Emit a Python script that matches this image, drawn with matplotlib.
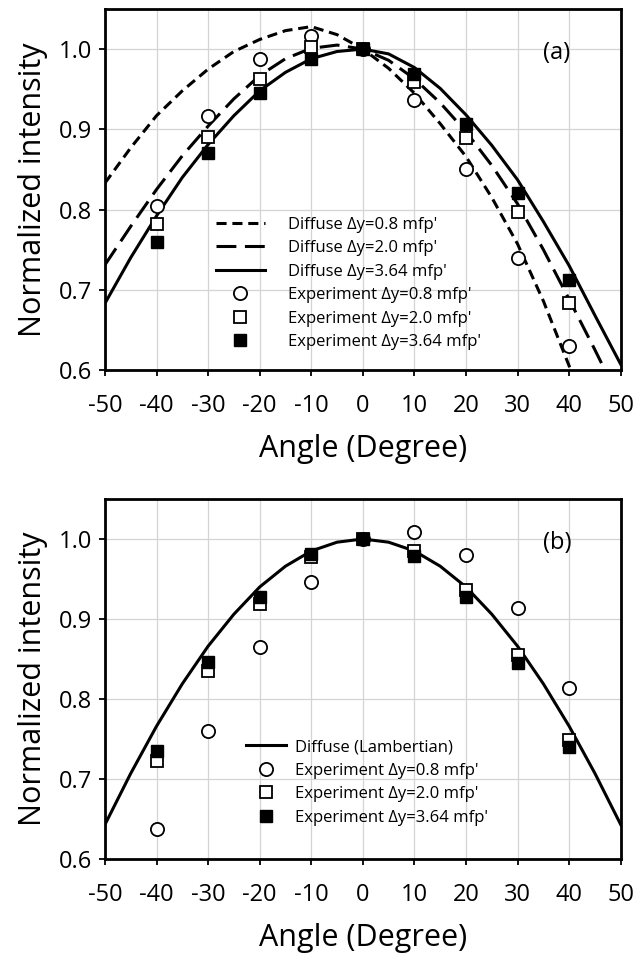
import matplotlib.pyplot as plt

plt.rcParams['font.family'] = ['Open Sans', 'DejaVu Sans']
plt.rcParams['axes.unicode_minus'] = False

# angle grid of the model curves (degree)
curve_angle = [-50, -45, -40, -35, -30, -25, -20, -15, -10, -5, 0,
               5, 10, 15, 20, 25, 30, 35, 40, 45, 50]

# panel (a): diffuse model curves
diffuse_08 = [0.833, 0.877, 0.917, 0.948, 0.975, 0.997, 1.012, 1.023, 1.028, 1.018, 1.000,
              0.976, 0.945, 0.907, 0.866, 0.815, 0.757, 0.686, 0.605, 0.510, 0.410]
diffuse_20 = [0.731, 0.779, 0.825, 0.867, 0.904, 0.938, 0.967, 0.988, 1.001, 1.005, 1.000,
              0.986, 0.963, 0.933, 0.897, 0.855, 0.807, 0.750, 0.688, 0.625, 0.560]
diffuse_364 = [0.683, 0.740, 0.792, 0.840, 0.881, 0.917, 0.948, 0.971, 0.988, 0.997, 1.000,
               0.994, 0.977, 0.951, 0.918, 0.880, 0.837, 0.785, 0.730, 0.668, 0.607]

# panel (b): Lambertian curve
lambertian = [0.643, 0.707, 0.766, 0.819, 0.866, 0.906, 0.940, 0.966, 0.985, 0.996, 1.000,
              0.996, 0.985, 0.966, 0.940, 0.906, 0.866, 0.819, 0.766, 0.707, 0.643]

# measured points
exp_angle = [-40, -30, -20, -10, 0, 10, 20, 30, 40]
exp_a_08 = [0.804, 0.917, 0.988, 1.016, 1.000, 0.937, 0.850, 0.740, 0.630]
exp_a_20 = [0.782, 0.890, 0.963, 1.002, 1.000, 0.959, 0.889, 0.797, 0.683]
exp_a_364 = [0.760, 0.870, 0.945, 0.988, 1.000, 0.969, 0.906, 0.820, 0.712]
exp_b_08 = [0.638, 0.760, 0.865, 0.946, 1.000, 1.009, 0.980, 0.914, 0.814]
exp_b_20 = [0.722, 0.835, 0.919, 0.977, 1.000, 0.985, 0.936, 0.855, 0.749]
exp_b_364 = [0.735, 0.846, 0.927, 0.981, 1.000, 0.979, 0.928, 0.845, 0.740]

lab_exp = ["Experiment \u0394y=0.8 mfp'", "Experiment \u0394y=2.0 mfp'",
           "Experiment \u0394y=3.64 mfp'"]

fig = plt.figure(figsize=(6.36, 9.55), dpi=100)
ax_a = fig.add_axes([0.165, 0.6126, 0.811, 0.378])
ax_b = fig.add_axes([0.165, 0.1005, 0.811, 0.377])


def style_axes(ax, tag):
    ax.set_xlim(-50, 50)
    ax.set_ylim(0.6, 1.05)
    ax.set_xticks(range(-50, 51, 10))
    ax.set_yticks([0.6, 0.7, 0.8, 0.9, 1.0])
    ax.set_yticklabels(['0.6', '0.7', '0.8', '0.9', '1.0'])
    ax.grid(True, color='#d4d4d4', lw=0.9)
    ax.set_axisbelow(True)
    for s in ax.spines.values():
        s.set_linewidth(2)
    ax.tick_params(direction='out', length=4, width=1.3, labelsize=17)
    ax.tick_params(axis='x', pad=13)
    ax.tick_params(axis='y', pad=5)
    ax.set_xlabel('Angle (Degree)', fontsize=22, labelpad=12)
    ax.set_ylabel('Normalized intensity', fontsize=22, labelpad=8)
    ax.text(0.876, 0.878, tag, transform=ax.transAxes, fontsize=17,
            ha='center', va='center')


def plot_points(ax, y08, y20, y364):
    ax.plot(exp_angle, y08, 'o', ms=9.5, mfc='white', mec='black', mew=1.3,
            ls='none', label=lab_exp[0], zorder=3)
    ax.plot(exp_angle, y20, 's', ms=8, mfc='white', mec='black', mew=1.3,
            ls='none', label=lab_exp[1], zorder=4)
    ax.plot(exp_angle, y364, 's', ms=8, mfc='black', mec='black', mew=1.0,
            ls='none', label=lab_exp[2], zorder=5)


# (a)
ax_a.plot(curve_angle, diffuse_08, color='black', lw=2.2, dashes=(3.3, 1.9),
          label="Diffuse \u0394y=0.8 mfp'")
ax_a.plot(curve_angle, diffuse_20, color='black', lw=2.2, dashes=(6.5, 2.8),
          label="Diffuse \u0394y=2.0 mfp'")
ax_a.plot(curve_angle, diffuse_364, color='black', lw=2.2,
          label="Diffuse \u0394y=3.64 mfp'")
plot_points(ax_a, exp_a_08, exp_a_20, exp_a_364)
style_axes(ax_a, '(a)')
ax_a.legend(loc='upper left', bbox_to_anchor=(0.215, 0.425), frameon=False,
            fontsize=12, handlelength=2.95, handletextpad=1.4,
            labelspacing=0.45, borderpad=0, borderaxespad=0)

# (b)
ax_b.plot(curve_angle, lambertian, color='black', lw=2.2,
          label='Diffuse (Lambertian)')
plot_points(ax_b, exp_b_08, exp_b_20, exp_b_364)
style_axes(ax_b, '(b)')
ax_b.legend(loc='upper left', bbox_to_anchor=(0.273, 0.333), frameon=False,
            fontsize=12, handlelength=2.4, handletextpad=0.55,
            labelspacing=0.45, borderpad=0, borderaxespad=0)

fig.savefig('out.png', dpi=100)
